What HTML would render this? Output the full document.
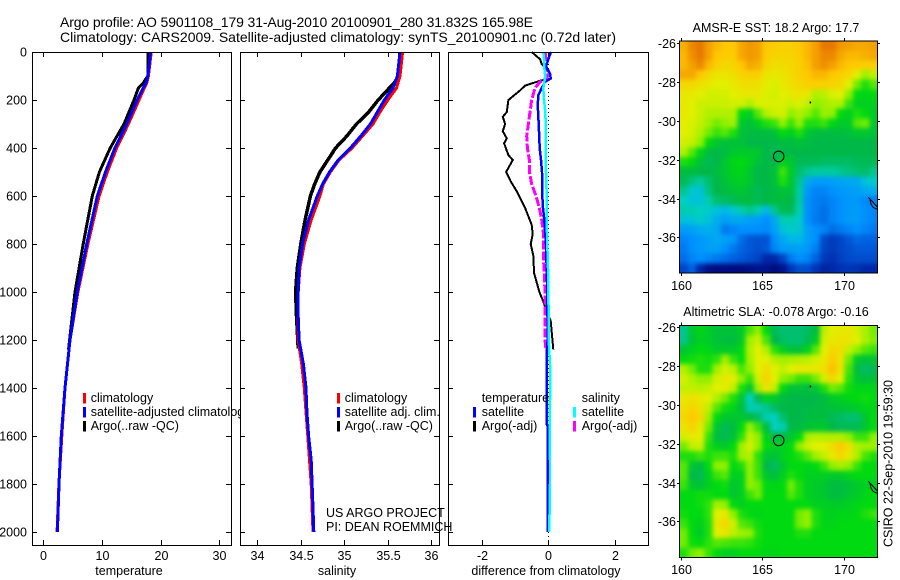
<!DOCTYPE html>
<html>
<head>
<meta charset="utf-8">
<title>Argo profile</title>
<style>
html,body{margin:0;padding:0;background:#fff;}
svg{display:block;}
text{font-family:"Liberation Sans",sans-serif;fill:#000;font-size:12.5px;}
.title{font-size:14px;}
</style>
</head>
<body>
<svg id="chart" xmlns="http://www.w3.org/2000/svg" width="900" height="580" viewBox="0 0 900 580">
<rect x="0" y="0" width="900" height="580" fill="#fff"/>
<defs>
<clipPath id="clip-map1"><rect x="679.5" y="41" width="198" height="232"/></clipPath>
<clipPath id="clip-map2"><rect x="679.5" y="325.5" width="198" height="232"/></clipPath>
<filter id="soften" x="-5%" y="-5%" width="110%" height="110%" color-interpolation-filters="sRGB">
<feGaussianBlur stdDeviation="2.4"/>
<feComponentTransfer><feFuncA type="linear" slope="6"/></feComponentTransfer>
</filter>
</defs>
<text class="title" x="60" y="27" textLength="473" lengthAdjust="spacingGlyphs">Argo profile: AO 5901108_179 31-Aug-2010 20100901_280 31.832S 165.98E</text>
<text class="title" x="60" y="42" textLength="556" lengthAdjust="spacingGlyphs">Climatology: CARS2009. Satellite-adjusted climatology: synTS_20100901.nc (0.72d later)</text>
<g id="layer"></g>
</svg>
<script>
// ---- profile data ----
const depthTicks = [0,200,400,600,800,1000,1200,1400,1600,1800,2000];
const tempTicks = [0,10,20,30];
const salTicks = [34,34.5,35,35.5,36];
const salTickLabels = ['34','34.5','35','35.5','36'];
const diffTicks = [-2,0,2];

const tempDepths = [0,100,130,150,200,300,400,500,600,800,1000,1200,1400,1600,1800,2000];
const tempClim = [18.4,17.9,17.6,17.2,16.3,14.5,12.5,10.9,9.5,7.6,5.9,4.55,3.7,3.15,2.65,2.35];
const tempSat = [18.3,17.8,17.5,17.0,16.0,14.2,12.2,10.6,9.2,7.4,5.8,4.55,3.7,3.07,2.68,2.4];
const argoTempDepths = [0,100,130,150,200,300,400,500,600,800,1000,1240];
const tempArgo = [17.8,17.8,17.0,16.2,15.45,13.75,11.4,9.55,8.35,6.8,5.4,4.3];

const salDepths = [0,100,150,200,250,300,350,400,450,500,550,600,700,800,900,1000,1100,1200,1300,1400,1500,1600,1700,1800,1900,2000];
const salClim = [35.67,35.64,35.6,35.5,35.41,35.33,35.21,35.09,34.94,34.84,34.76,34.72,34.62,34.54,34.49,34.47,34.47,34.47,34.51,34.54,34.56,34.58,34.60,34.62,34.63,34.64];
const salSat = [35.64,35.61,35.56,35.46,35.38,35.30,35.19,35.07,34.93,34.83,34.75,34.69,34.59,34.52,34.48,34.47,34.47,34.48,34.53,34.56,34.57,34.59,34.62,34.63,34.64,34.65];
const argoSalDepths = [0,100,130,200,250,300,350,400,450,500,550,600,700,800,900,1000,1100,1235];
const salArgo = [35.64,35.63,35.57,35.39,35.28,35.14,35.03,34.9,34.81,34.72,34.66,34.61,34.55,34.5,34.46,34.44,34.45,34.47];

const dTempArgoDepths = [0,30,50,70,90,110,120,140,160,200,250,270,300,330,360,380,430,450,500,540,580,650,720,760,800,850,920,1000,1040,1100,1120,1240];
const dTempArgo = [-0.49,-0.24,-0.19,-0.06,0.06,0.09,-0.24,-0.69,-0.84,-1.19,-1.24,-1.36,-1.29,-1.36,-1.24,-1.32,-1.19,-1.06,-1.26,-1.12,-0.94,-0.69,-0.49,-0.46,-0.52,-0.44,-0.42,-0.26,-0.14,0.01,0.08,0.16];
const dSalArgoDepths = [0,30,60,90,110,125,150,200,250,300,350,400,450,500,550,600,650,700,750,800,850,900,1000,1100,1200,1240];
const dSalArgo = [-0.09,-0.06,-0.08,0.01,-0.04,-0.24,-0.39,-0.49,-0.54,-0.59,-0.64,-0.62,-0.56,-0.56,-0.49,-0.36,-0.26,-0.19,-0.14,-0.14,-0.14,-0.12,-0.09,-0.09,-0.09,-0.06];
const dTempSatDepths = [0,30,60,90,110,125,150,180,220,300,400,450,500,600,650,700,800,1000,1200,1255,1550,1560,2000];
const dTempSat = [0.09,0.01,-0.06,0.06,0.08,-0.09,-0.19,-0.29,-0.31,-0.28,-0.25,-0.21,-0.18,-0.17,-0.15,-0.11,-0.06,-0.02,-0.01,-0.04,-0.04,-0.01,-0.01];
const dSalSatDepths = [0,30,60,100,150,200,250,300,400,500,600,700,800,900,1000,1100,1200,1300,1400,1500,1600,1700,1800,1900,2000];
const dSalSat = [-0.14,-0.12,-0.12,-0.08,-0.14,-0.12,-0.08,-0.07,-0.07,-0.06,-0.04,-0.04,-0.02,0,0.01,0.02,0.02,0.06,0.07,0.05,0.05,0.06,0.06,0.05,0.03];

// ---- map data ----
const lonTicks = [160,165,170];
const latTicks = [-26,-28,-30,-32,-34,-36];
const profileLon = [166];
const profileLat = [-31.83];
const islandLon = [167.95,167.93];
const islandLat = [-29.0,-29.1];
const coastLon = [171.49,171.71,171.92,172.05,172.05,171.78,171.65,171.59];
const coastLat = [-33.94,-34.13,-34.33,-34.44,-34.56,-34.46,-34.28,-34.05];

const sstGrid = [
[9.3,9.8,10,9.5,9.2,9.0,9.0,9.4,9.6,9.5,9.0,8.9,8.8,8.8,9.0,9.2,9.5,10,10,9.6,9.5,9.4,9.4,9.5],
[9.2,9.7,10,9.5,9.0,8.9,8.9,9.4,9.6,9.5,8.9,8.7,8.7,8.7,8.9,9.2,9.5,9.8,9.8,9.4,9.2,9.2,9.3,9.4],
[9.2,9.5,9.8,9.2,8.8,8.6,8.7,9.0,9.4,9.3,8.7,8.4,8.5,8.6,8.8,9.1,9.5,9.7,9.5,9.2,9.0,8.9,8.8,8.8],
[9.4,9.4,9.0,8.6,8.3,8.3,8.4,8.7,8.8,8.8,8.3,8.2,8.3,8.5,8.8,9.0,9.2,9.2,9.0,8.8,8.6,8.0,7.2,7.6],
[8.6,8.6,8.4,8.2,8.0,8.0,8.2,8.4,8.5,8.4,8.1,7.9,8.2,8.4,8.6,8.8,8.8,8.8,8.7,8.6,8.0,6.8,6.2,6.6],
[8.2,8.2,8.0,7.8,7.8,7.8,8.0,8.2,8.2,8.2,7.9,7.8,8.0,8.2,8.3,8.2,7.4,7.5,7.9,8.0,7.0,6.0,5.9,6.0],
[8.2,8.0,7.7,7.7,7.7,7.7,7.8,7.8,7.4,7.9,7.9,7.9,7.9,7.7,7.9,7.6,7.0,7.2,7.4,7.4,6.4,5.8,5.8,5.8],
[8.2,8.0,7.7,7.4,7.4,7.4,7.4,6.0,5.8,6.6,7.4,7.7,7.8,7.0,7.4,7.0,6.6,7.1,7.0,6.0,5.8,6.2,6.0,5.7],
[8.1,7.9,7.6,7.2,6.8,7.0,7.2,5.6,5.5,5.8,6.2,6.4,7.0,6.4,7.0,6.2,6.2,6.4,5.9,5.7,5.7,6.6,6.8,5.6],
[8.0,7.8,7.4,6.8,6.4,6.6,6.2,5.5,5.4,5.4,5.4,5.5,6.0,5.8,6.2,5.6,5.4,5.4,5.4,5.4,5.5,5.6,5.6,5.5],
[7.8,7.6,7.0,6.0,5.6,5.5,5.5,5.5,5.3,5.3,5.3,5.3,5.4,5.4,5.5,5.4,5.3,5.3,5.3,5.3,5.3,5.3,5.3,5.3],
[7.4,6.6,5.9,5.4,5.3,5.4,5.6,5.7,5.7,5.6,5.3,5.2,5.3,5.3,5.3,5.3,5.3,5.3,5.3,5.3,5.3,5.3,5.3,5.3],
[6.2,6.0,5.5,5.2,5.3,5.6,5.9,6.0,5.8,5.5,5.3,5.3,5.8,5.6,5.2,5.2,5.2,5.1,5.1,5.1,5.1,5.2,5.2,5.2],
[5.4,5.4,5.3,5.3,5.4,5.6,5.8,5.9,5.6,5.3,5.3,5.5,6.4,5.7,5.0,4.8,4.7,4.7,4.7,4.8,4.9,5.0,5.1,4.8],
[5.2,4.9,4.7,5.0,5.3,5.5,5.7,5.8,5.6,5.3,5.3,5.5,6.2,5.6,4.8,3.6,3.3,3.3,3.4,3.5,3.6,3.6,4.2,4.4],
[4.8,4.3,4.2,4.9,5.3,5.4,5.5,5.6,5.4,5.2,5.3,5.4,5.5,5.5,4.7,3.2,2.8,2.8,3.0,3.2,3.3,3.4,3.6,3.8],
[4.5,4.2,4.2,4.6,5.0,5.1,5.2,5.4,5.4,5.2,5.3,5.4,5.4,5.3,4.7,3.0,2.7,2.6,2.8,3.0,3.2,3.2,2.9,2.7],
[4.6,4.6,4.5,4.4,4.2,4.0,4.3,4.6,4.8,4.6,4.0,4.8,5.2,5.2,4.6,3.0,2.7,2.4,2.8,3.0,3.2,3.3,3.0,2.8],
[4.2,4.2,4.4,4.2,3.7,3.4,3.6,3.6,3.4,3.3,3.0,3.6,4.6,4.6,4.4,3.0,2.6,2.4,2.8,3.0,3.3,3.3,3.0,2.8],
[3.3,3.4,3.7,3.8,3.6,2.6,2.8,3.0,3.0,3.0,2.9,3.4,4.2,4.4,4.3,3.4,3.0,2.8,2.4,2.6,2.8,3.0,2.8,2.6],
[2.8,3.0,3.2,3.4,3.6,3.4,3.2,2.4,2.0,1.9,1.9,3.0,3.6,4.0,4.0,3.4,3.0,1.7,1.4,1.6,2.0,2.3,2.2,2.2],
[2.6,3.0,3.2,3.4,3.4,3.0,2.6,2.2,2.0,1.8,2.0,2.8,3.3,3.3,3.4,3.2,2.7,1.6,1.4,1.6,1.8,2.0,2.0,2.0],
[2.4,2.8,3.0,2.8,2.6,2.4,2.2,2.0,1.8,1.6,1.0,1.0,1.6,2.6,3.0,2.8,2.2,1.4,1.2,1.5,1.7,1.8,1.8,1.8],
[1.6,2.2,1.0,0.4,0.3,0.3,0.3,0.3,0.4,0.5,0.5,0.3,0.5,1.3,1.8,1.8,1.3,0.9,1.0,1.2,1.3,1.2,1.0,1.0]
];
const slaGrid = [
[4.8,5.6,5.9,5.7,5.5,5.5,5.5,5.7,6.5,7.0,6.0,5.2,5.0,5.0,5.0,5.1,5.4,7.5,8.0,8.2,8.2,7.8,7.3,6.8],
[4.8,5.5,5.8,5.7,5.5,5.4,5.4,5.7,7.2,7.7,6.5,5.3,5.1,5.0,5.0,5.2,5.7,7.8,8.2,8.3,8.3,8.0,7.3,6.9],
[5.6,5.8,6.0,5.9,5.7,5.7,5.7,6.0,7.4,8.0,7.4,6.3,5.8,5.5,5.5,5.8,6.6,8.0,8.6,8.5,7.6,7.0,6.6,6.4],
[6.0,6.1,6.2,6.1,6.3,7.2,6.4,6.0,7.3,8.0,8.0,7.4,7.2,7.3,7.4,7.5,7.8,8.2,8.9,8.3,6.8,5.7,5.5,5.6],
[7.4,6.8,6.2,6.2,7.2,7.8,7.5,6.5,7.0,8.0,8.5,8.0,7.6,8.0,8.2,8.2,8.2,8.4,9.1,8.3,6.5,5.4,5.1,5.2],
[7.8,7.4,7.0,7.0,7.8,8.2,8.1,7.0,6.4,7.8,8.7,8.0,7.0,6.8,6.4,6.4,6.8,7.8,8.6,8.0,6.3,5.6,5.4,5.5],
[7.6,7.6,7.5,7.6,8.0,8.1,7.6,6.2,5.6,7.2,8.3,7.6,6.0,5.5,5.5,5.4,5.6,6.2,6.8,6.6,6.1,5.9,5.9,5.9],
[8.2,8.4,8.2,8.0,7.4,6.8,6.2,5.6,4.5,5.2,5.8,5.7,5.4,5.3,5.3,5.3,5.3,5.4,5.7,5.8,5.9,6.0,6.1,6.0],
[8.4,8.7,8.4,7.6,6.6,6.1,5.9,5.4,4.6,4.6,4.8,5.1,5.3,5.3,5.3,5.3,5.4,5.4,5.5,5.5,5.6,5.7,5.9,5.9],
[8.6,9.0,8.6,7.2,6.0,5.6,5.6,5.6,5.4,5.1,4.6,4.5,5.0,5.3,5.3,5.4,5.4,5.4,5.2,5.1,5.0,5.0,5.6,6.0],
[8.3,8.7,8.2,6.8,5.6,5.2,5.4,6.0,7.0,6.4,5.4,4.5,4.6,5.3,5.4,5.5,5.6,5.6,5.3,5.2,5.2,5.2,5.6,6.0],
[7.8,8.2,8.0,6.4,5.4,5.2,5.5,6.3,7.6,7.0,5.8,5.3,5.4,5.6,6.0,7.3,7.5,7.4,7.4,7.4,7.0,6.4,6.4,7.0],
[6.8,7.6,7.7,6.2,5.8,5.7,6.0,7.2,7.8,7.0,6.0,5.8,5.8,6.0,7.0,7.7,8.0,8.0,8.5,9.0,8.4,7.4,7.2,7.2],
[6.2,6.2,6.4,6.2,6.4,6.4,6.2,7.2,7.4,6.3,5.6,5.5,5.8,6.0,6.2,6.6,7.2,7.6,8.2,8.6,8.2,7.4,6.5,6.2],
[6.6,5.6,5.4,6.0,7.0,7.0,6.0,6.2,7.0,6.4,5.3,5.1,5.6,6.0,6.0,5.9,6.0,6.4,7.0,7.3,7.0,6.4,6.0,6.0],
[6.6,5.3,5.2,5.8,6.4,6.6,5.8,5.8,7.0,6.4,5.6,5.4,5.8,6.2,6.0,5.8,5.8,5.8,5.7,5.7,5.9,6.0,6.0,6.0],
[6.4,5.6,5.5,5.8,6.0,6.1,5.6,5.8,7.0,6.8,6.0,5.9,6.0,6.8,6.2,5.8,5.7,5.6,5.4,5.4,5.5,5.7,5.8,5.7],
[6.0,6.0,6.1,6.1,6.0,6.0,5.6,5.8,6.4,6.8,6.0,6.0,6.0,6.6,6.2,5.8,5.7,5.6,5.4,5.4,5.6,5.7,5.9,6.0],
[6.0,6.0,6.1,6.3,7.2,7.0,6.0,5.8,6.0,6.0,6.0,6.0,6.0,6.0,6.0,6.0,5.8,5.8,5.7,5.7,5.8,5.9,6.0,6.0],
[6.1,6.0,6.0,6.3,8.0,8.2,7.0,6.2,6.0,5.9,6.0,6.0,6.0,6.0,6.8,7.0,6.2,5.9,5.8,5.9,5.9,6.0,6.2,6.4],
[6.4,6.0,5.8,6.2,8.2,8.6,7.8,6.6,6.4,6.1,6.0,6.0,6.0,6.0,6.8,7.1,6.2,5.9,5.9,6.0,6.0,6.0,6.0,6.0],
[6.8,6.0,5.7,6.2,8.0,8.3,7.5,7.2,7.0,6.2,6.0,6.0,6.0,6.0,6.2,6.2,6.0,6.0,6.0,6.0,6.0,6.0,6.0,6.0],
[6.8,6.1,6.0,6.3,6.6,6.5,6.4,6.4,6.3,6.1,6.0,6.0,6.0,6.0,6.0,6.0,6.0,6.0,6.0,6.0,6.0,6.0,6.0,6.0],
[6.2,6.8,7.0,6.4,6.0,5.8,5.8,6.0,6.0,6.0,5.9,5.9,6.0,6.0,6.0,6.0,6.0,6.0,6.0,6.0,6.0,6.0,6.0,6.0]
];

// ---- helpers ----
const NS = 'http://www.w3.org/2000/svg';
const layer = document.getElementById('layer');
function make(tag, attrs, parent) {
  const el = document.createElementNS(NS, tag);
  for (const k in attrs) el.setAttribute(k, attrs[k]);
  (parent || layer).appendChild(el);
  return el;
}
const stops = [[0,0,0,112],[1,0,40,168],[2,0,88,216],[3,0,144,255],[4,0,184,232],[4.5,0,208,192],[5,0,192,112],[5.3,0,184,72],[6,0,218,16],[7,144,240,0],[8,225,240,0],[9,255,200,0],[10,232,120,0]];
function colorOf(v) {
  for (let i = 1; i < stops.length; i++) {
    if (v <= stops[i][0]) {
      const a = stops[i-1], b = stops[i], t = (v - a[0]) / (b[0] - a[0]);
      return 'rgb(' + [1,2,3].map(c => Math.round(a[c] + (b[c] - a[c]) * t)).join(',') + ')';
    }
  }
  return 'rgb(232,120,0)';
}
function label(txt, x, y, anchor, parent) {
  const t = make('text', {x: x, y: y, 'text-anchor': anchor || 'start'}, parent);
  t.textContent = txt;
  return t;
}

// ---- profile panels ----
const plotTop = 52, plotBottom = 545;
function yDepth(d) { return 52 + 0.24 * d; }

function drawPanel(name, left, right, xFn, ticks, tickLabels, xTitle, titleX) {
  const g = make('g', {});
  
  
  make('rect', {x: left, y: plotTop, width: right - left, height: plotBottom - plotTop, fill: '#fff', stroke: 'none'}, g);
  return {g: g, left: left, right: right, xFn: xFn, ticks: ticks, tickLabels: tickLabels, xTitle: xTitle, titleX: titleX};
}
function finishPanel(p) {
  const g = p.g;
  const axes = make('g', {stroke: '#000', 'stroke-width': 1, 'shape-rendering': 'crispEdges', fill: 'none'}, g);
  
  
  make('rect', {x: p.left + 0.5, y: plotTop + 0.5, width: p.right - p.left, height: plotBottom - plotTop}, axes);
  p.ticks.forEach(function (v, i) {
    const x = Math.round(p.xFn(v)) + 0.5;
    make('line', {x1: x, x2: x, y1: plotTop, y2: plotTop + 5}, axes);
    make('line', {x1: x, x2: x, y1: plotBottom, y2: plotBottom - 5}, axes);
    const t = label(p.tickLabels[i], x, 560, 'middle', g);
    
    
  });
  depthTicks.forEach(function (d) {
    const y = Math.round(yDepth(d)) + 0.5;
    make('line', {x1: p.left, x2: p.left + 5, y1: y, y2: y}, axes);
    make('line', {x1: p.right, x2: p.right - 5, y1: y, y2: y}, axes);
  });
  const title = label(p.xTitle, p.titleX, 575, 'middle', g);
  
  
}
function drawSeries(g, name, xs, depths, xFn, color, width, dash) {
  const pts = xs.map(function (v, i) { return xFn(v).toFixed(1) + ',' + yDepth(depths[i]).toFixed(1); }).join(' ');
  const attrs = {points: pts, fill: 'none', stroke: color, 'stroke-width': width, 'stroke-linejoin': 'miter', 'shape-rendering': 'crispEdges'};
  if (dash) attrs['stroke-dasharray'] = dash;
  const line = make('polyline', attrs, g);
  
  
}
function legendRow(g, swatchX, textX, rowY, color, txt) {
  if (color) {
    const s = make('rect', {x: swatchX - 1, y: rowY - 5, width: 3, height: 10.5, fill: color}, g);
    
    
  }
  const t = label(txt, textX, rowY + 4, 'start', g);
  
  
}

// temperature
function xTemp(v) { return 43.3 + 5.87 * v; }
const p1 = drawPanel('temperature', 32, 231, xTemp, tempTicks, tempTicks.map(String), 'temperature', 129);
drawSeries(p1.g, 'temperature-argo-line', tempArgo, argoTempDepths, xTemp, '#000', 3);
drawSeries(p1.g, 'temperature-climatology-line', tempClim, tempDepths, xTemp, '#f00', 3);
drawSeries(p1.g, 'temperature-satellite-line', tempSat, tempDepths, xTemp, '#00f', 3);
finishPanel(p1);
depthTicks.forEach(function (d) {
  const t = label(String(d), 27, Math.round(yDepth(d)) + 4.5, 'end', p1.g);
  
  
});
legendRow(p1.g, 84, 90.7, 398, '#f00', 'climatology');
legendRow(p1.g, 84, 90.7, 412, '#00f', 'satellite-adjusted climatology');
legendRow(p1.g, 84, 90.7, 426, '#000', 'Argo(..raw -QC)');

// salinity
function xSal(v) { return 344.3 + 87 * (v - 35); }
const p2 = drawPanel('salinity', 240, 439, xSal, salTicks, salTickLabels, 'salinity', 337);
drawSeries(p2.g, 'salinity-argo-line', salArgo, argoSalDepths, xSal, '#000', 3.5);
drawSeries(p2.g, 'salinity-climatology-line', salClim, salDepths, xSal, '#f00', 3);
drawSeries(p2.g, 'salinity-satellite-line', salSat, salDepths, xSal, '#00f', 3);
finishPanel(p2);
legendRow(p2.g, 338, 344.7, 398, '#f00', 'climatology');
legendRow(p2.g, 338, 344.7, 412, '#00f', 'satellite adj. clim.');
legendRow(p2.g, 338, 344.7, 426, '#000', 'Argo(..raw -QC)');

// differences
function xDiff(v) { return 548 + 33.25 * v; }
const p3 = drawPanel('difference', 448, 648, xDiff, diffTicks, diffTicks.map(function (v) { return v === -2 ? '-2' : String(v); }), 'difference from climatology', 546);
const zero = make('line', {x1: 548.5, x2: 548.5, y1: plotTop, y2: plotBottom, stroke: '#000', 'stroke-width': 1, 'stroke-dasharray': '1 3'}, p3.g);


drawSeries(p3.g, 'difference-temperature-argo-line', dTempArgo, dTempArgoDepths, xDiff, '#000', 2);
drawSeries(p3.g, 'difference-salinity-argo-line', dSalArgo, dSalArgoDepths, xDiff, '#f0f', 3, '9 2');
drawSeries(p3.g, 'difference-temperature-satellite-line', dTempSat, dTempSatDepths, xDiff, '#00f', 2.5);
drawSeries(p3.g, 'difference-salinity-satellite-line', dSalSat, dSalSatDepths, xDiff, '#0ff', 2.5);
finishPanel(p3);
legendRow(p3.g, 474, 481.7, 398, null, 'temperature');
legendRow(p3.g, 474, 481.7, 412, '#00f', 'satellite');
legendRow(p3.g, 474, 481.7, 426, '#000', 'Argo(-adj)');
legendRow(p3.g, 574, 581.7, 398, null, 'salinity');
legendRow(p3.g, 574, 581.7, 412, '#0ff', 'satellite');
legendRow(p3.g, 574, 581.7, 426, '#f0f', 'Argo(-adj)');

// project credit, drawn over panels
const credit1 = label('US ARGO PROJECT', 326, 517);


const credit2 = label('PI: DEAN ROEMMICH', 326, 531);



// ---- maps ----
function drawMap(name, grid, titleTxt, titleY, top, bottom, lat26Y, clipId, labelY) {
  const left = 679.5, right = 877.5;
  function xLon(lon) { return 680.7 + 16.33 * (lon - 160); }
  function yLat(lat) { return lat26Y + 19.4 * (-26 - lat); }
  const g = make('g', {});
  
  
  const title = label(titleTxt, 776, titleY, 'middle', g);
  
  
  const clipper = make('g', {'clip-path': 'url(#' + clipId + ')'}, g);
  const cells = make('g', {'shape-rendering': 'crispEdges', filter: 'url(#soften)'}, clipper);
  
  
  const nR = grid.length, nC = grid[0].length;
  const cw = (right - left) / nC, ch = (bottom - top) / nR;
  grid.forEach(function (row, r) {
    row.forEach(function (v, c) {
      make('rect', {x: (left + c * cw).toFixed(2), y: (top + r * ch).toFixed(2), width: (cw + 0.6).toFixed(2), height: (ch + 0.6).toFixed(2), fill: colorOf(v)}, cells);
    });
  });
  const overlay = make('g', {'clip-path': 'url(#' + clipId + ')', fill: 'none', stroke: '#000', 'stroke-width': 1}, g);
  const coast = make('polyline', {points: coastLon.map(function (v, i) { return xLon(v).toFixed(1) + ',' + yLat(coastLat[i]).toFixed(1); }).join(' ')}, overlay);
  
  
  const island = make('polyline', {points: islandLon.map(function (v, i) { return xLon(v).toFixed(1) + ',' + yLat(islandLat[i]).toFixed(1); }).join(' '), 'stroke-width': 1.5}, overlay);
  
  
  const marker = make('circle', {cx: xLon(profileLon[0]).toFixed(1), cy: yLat(profileLat[0]).toFixed(1), r: 5.3}, overlay);
  
  
  const axes = make('g', {stroke: '#000', 'stroke-width': 1, fill: 'none', 'shape-rendering': 'crispEdges'}, g);
  
  
  make('rect', {x: 679.5, y: top, width: 198, height: bottom - top}, axes);
  lonTicks.forEach(function (lon) {
    const x = Math.round(xLon(lon)) + 0.5;
    make('line', {x1: x, x2: x, y1: top - 3, y2: top}, axes);
    make('line', {x1: x, x2: x, y1: bottom, y2: bottom + 3}, axes);
    const t = label(String(lon), x, labelY, 'middle', g);
    
    
  });
  latTicks.forEach(function (lat) {
    const y = Math.round(yLat(lat)) + 0.5;
    make('line', {x1: 677, x2: 680, y1: y, y2: y}, axes);
    make('line', {x1: 877, x2: 880, y1: y, y2: y}, axes);
    const t = label(String(lat), 676, y + 4.5, 'end', g);
    
    
  });
}
drawMap('sst', sstGrid, 'AMSR-E SST: 18.2 Argo: 17.7', 32, 41, 273, 43.3, 'clip-map1', 290);
drawMap('sla', slaGrid, 'Altimetric SLA: -0.078 Argo: -0.16', 316, 325.5, 557.5, 327.3, 'clip-map2', 574);

const stamp = make('text', {x: 0, y: 0, transform: 'translate(892.5,547) rotate(-90)', textLength: 167, lengthAdjust: 'spacingGlyphs'});
stamp.textContent = 'CSIRO 22-Sep-2010 19:59:30';


</script>
</body>
</html>
